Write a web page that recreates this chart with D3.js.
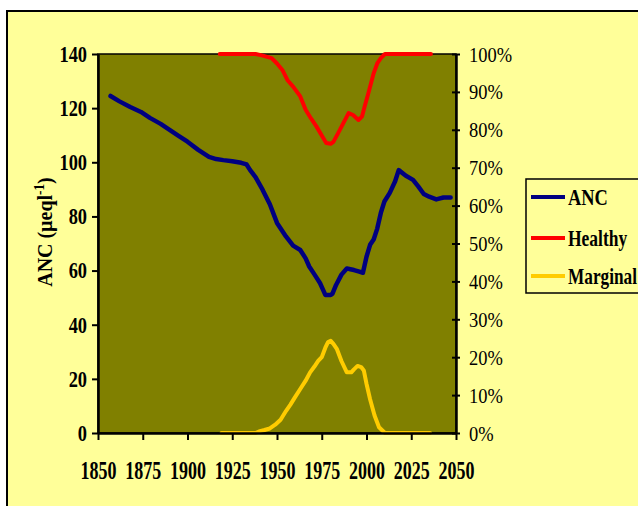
<!DOCTYPE html>
<html>
<head>
<meta charset="utf-8">
<script src="https://cdn.jsdelivr.net/npm/d3@7"></script>
<style>
  html, body { margin: 0; padding: 0; background: #ffffff; }
  svg { display: block; }
  text { font-family: "Liberation Serif", "Times New Roman", serif; fill: #000; }
</style>
</head>
<body>
<svg id="chart" width="638" height="506"></svg>
<script>
// ---- data ----
const xTicks = [1850, 1875, 1900, 1925, 1950, 1975, 2000, 2025, 2050];
const leftTicks = [0, 20, 40, 60, 80, 100, 120, 140];
const rightTicks = [0, 0.1, 0.2, 0.3, 0.4, 0.5, 0.6, 0.7, 0.8, 0.9, 1.0];
const seriesNames = ["ANC", "Healthy", "Marginal"];

const ancYears = [1857, 1862, 1868, 1874, 1879, 1885, 1890, 1895, 1900, 1906, 1912, 1916, 1920, 1925, 1930, 1933, 1935, 1938, 1942, 1946, 1950, 1955, 1959, 1963, 1966, 1968, 1971, 1974, 1976, 1977, 1980, 1981, 1983, 1986, 1989, 1991, 1993, 1996, 1998, 2000, 2002, 2004, 2006, 2008, 2010, 2013, 2016, 2018, 2022, 2026, 2029, 2032, 2035, 2039, 2043, 2047];
const ancValues = [124.5, 122.5, 120.4, 118.6, 116.4, 114.2, 112, 109.8, 107.6, 104.6, 102, 101.2, 100.8, 100.4, 99.8, 99.2, 97.1, 94.5, 89.8, 84.5, 77.6, 72.6, 69.2, 67.6, 64.5, 61.5, 58.5, 55.4, 52.5, 51, 51, 51.5, 54.7, 58.5, 60.8, 60.5, 60.2, 59.6, 59.2, 65.1, 69.5, 71.5, 75.5, 81.3, 85.5, 88.7, 93, 97.1, 95, 93.5, 91, 88.3, 87.3, 86.3, 87, 87];

const healthyYears = [1918, 1925, 1932, 1938, 1941, 1944, 1947, 1950, 1953, 1956, 1959, 1963, 1966, 1969, 1972, 1975, 1977.5, 1980, 1981.5, 1984, 1987, 1990, 1992.5, 1995.5, 1997.5, 1999, 2001, 2004, 2006, 2008, 2010.3, 2020, 2036];
const healthyValues = [1.0, 1.0, 1.0, 1.0, 0.997, 0.993, 0.989, 0.975, 0.958, 0.93, 0.914, 0.888, 0.853, 0.83, 0.809, 0.785, 0.765, 0.763, 0.768, 0.79, 0.817, 0.844, 0.839, 0.826, 0.835, 0.862, 0.896, 0.949, 0.975, 0.989, 1.0, 1.0, 1.0];

const marginalYears = [1919, 1925, 1932, 1938, 1940.5, 1943, 1946, 1949, 1952, 1955, 1957.5, 1960, 1963, 1966, 1968.5, 1971, 1973, 1975, 1977, 1978.5, 1980, 1981.5, 1983.5, 1986, 1989, 1991.5, 1993, 1995, 1997, 1998.5, 2000, 2002, 2004.5, 2007, 2010.3, 2020, 2035.5];
const marginalValues = [0, 0, 0, 0, 0.005, 0.008, 0.012, 0.022, 0.035, 0.058, 0.075, 0.094, 0.116, 0.138, 0.16, 0.176, 0.19, 0.2, 0.225, 0.24, 0.243, 0.235, 0.221, 0.19, 0.16, 0.16, 0.168, 0.177, 0.174, 0.165, 0.13, 0.089, 0.046, 0.015, 0, 0, 0];

const colors = ["#000080", "#FF0000", "#FFCC00"];

// squeeze text horizontally (Excel-style condensed labels) about its own x anchor
function condense(sel, factor) {
  sel.each(function () {
    const t = d3.select(this);
    const x0 = +t.attr("x") || 0;
    t.attr("x", x0 / factor).attr("transform", `scale(${factor},1)`);
  });
}

// ---- layout ----
const svg = d3.select("#chart");
const plot = { left: 98, right: 456, top: 54, bottom: 433 };

// page frame
svg.append("rect").attr("x", 0).attr("y", 0).attr("width", 638).attr("height", 506).attr("fill", "#ffffff");
svg.append("rect").attr("x", 7).attr("y", 11).attr("width", 640).attr("height", 505)
  .attr("fill", "#FFFF99").attr("stroke", "#000").attr("stroke-width", 2);

const x = d3.scaleLinear().domain([1850, 2050]).range([plot.left, plot.right]);
const yL = d3.scaleLinear().domain([0, 140]).range([plot.bottom, plot.top]);
const yR = d3.scaleLinear().domain([0, 1]).range([plot.bottom, plot.top]);

// plot area
svg.append("rect").attr("x", plot.left).attr("y", plot.top)
  .attr("width", plot.right - plot.left).attr("height", plot.bottom - plot.top)
  .attr("fill", "#808000").attr("stroke", "#000").attr("stroke-width", 1.5);

// lines
const lineL = d3.line().x(d => x(d[0])).y(d => yL(d[1]));
const lineR = d3.line().x(d => x(d[0])).y(d => yR(d[1]));

svg.append("path").datum(marginalYears.map((yr, i) => [yr, marginalValues[i]]))
  .attr("d", lineR).attr("fill", "none").attr("stroke", colors[2]).attr("stroke-width", 4)
  .attr("stroke-linejoin", "round").attr("stroke-linecap", "round");
svg.append("path").datum(healthyYears.map((yr, i) => [yr, healthyValues[i]]))
  .attr("d", lineR).attr("fill", "none").attr("stroke", colors[1]).attr("stroke-width", 4)
  .attr("stroke-linejoin", "round").attr("stroke-linecap", "round");
svg.append("path").datum(ancYears.map((yr, i) => [yr, ancValues[i]]))
  .attr("d", lineL).attr("fill", "none").attr("stroke", colors[0]).attr("stroke-width", 4.5)
  .attr("stroke-linejoin", "round").attr("stroke-linecap", "round");

// axes
const gx = svg.append("g").attr("transform", `translate(0,${plot.bottom})`)
  .call(d3.axisBottom(x).tickValues(xTicks).tickFormat(d3.format("d")).tickSize(7).tickPadding(21).tickSizeOuter(0));
gx.selectAll("text").style("font-size", "25px").style("font-weight", "bold")
  .style("font-family", "Liberation Serif");
condense(gx.selectAll("text"), 0.72);

const gl = svg.append("g").attr("transform", `translate(${plot.left},0)`)
  .call(d3.axisLeft(yL).tickValues(leftTicks).tickFormat(d3.format("d")).tickSize(6).tickPadding(5).tickSizeOuter(0));
gl.selectAll("text").style("font-size", "23px").style("font-weight", "bold")
  .style("font-family", "Liberation Serif");
condense(gl.selectAll("text"), 0.8);

const gr = svg.append("g").attr("transform", `translate(${plot.right},0)`)
  .call(d3.axisRight(yR).tickValues(rightTicks).tickFormat(d3.format(".0%")).tickSize(4).tickPadding(9).tickSizeOuter(0));
gr.selectAll(".tick line").attr("x1", -4).attr("x2", 4);
gr.selectAll("text").style("font-size", "22px")
  .style("font-family", "Liberation Serif");
condense(gr.selectAll("text"), 0.84);

[gx, gl, gr].forEach(g => {
  g.select(".domain").attr("stroke", "#000").attr("stroke-width", 2.5);
  g.selectAll(".tick line").attr("stroke", "#000").attr("stroke-width", 2);
});

// y axis title
const yt = svg.append("text")
  .attr("transform", "translate(52,232) rotate(-90) scale(0.95,1)")
  .attr("text-anchor", "middle")
  .style("font-size", "21px").style("font-weight", "bold");
yt.append("tspan").text("ANC (µeql");
yt.append("tspan").style("font-size", "14px").attr("dy", -8).text("-1");
yt.append("tspan").attr("dy", 8).text(")");

// legend
const lg = svg.append("g");
lg.append("rect").attr("x", 526).attr("y", 179).attr("width", 140).attr("height", 114)
  .attr("fill", "#FFFF99").attr("stroke", "#000").attr("stroke-width", 1.5);
const legY = [197, 238, 276];
const legSqueeze = [0.8, 0.76, 0.75];
seriesNames.forEach((name, i) => {
  const t = lg.append("text").attr("x", 568).attr("y", legY[i] + 8)
    .style("font-size", "23px").style("font-weight", "bold")
    .text(name);
  condense(t, legSqueeze[i]);
  lg.append("line").attr("x1", 531).attr("x2", 565).attr("y1", legY[i]).attr("y2", legY[i])
    .attr("stroke", colors[i]).attr("stroke-width", 4);
});
</script>
</body>
</html>
